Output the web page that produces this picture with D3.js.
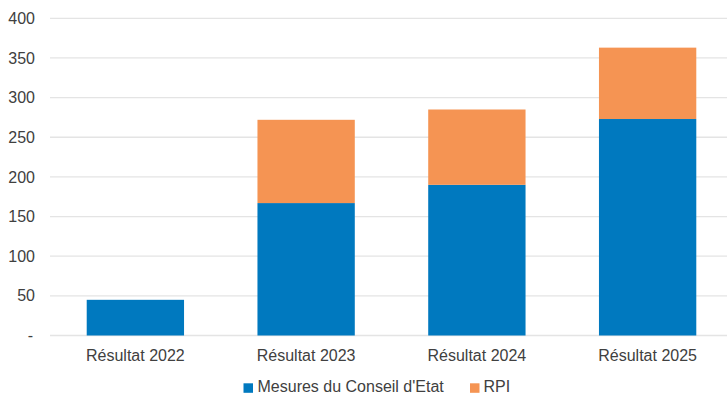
<!DOCTYPE html>
<html><head><meta charset="utf-8">
<script src="https://cdn.jsdelivr.net/npm/d3@7/dist/d3.min.js"></script>
<style>body{margin:0;background:#fff;}svg{display:block;font-family:"Liberation Sans",Arial,sans-serif;}</style>
</head><body>
<svg id="c" width="727" height="395"></svg>
<script>
const categories = ["Résultat 2022","Résultat 2023","Résultat 2024","Résultat 2025"];
const seriesNames = ["Mesures du Conseil d'Etat","RPI"];
const mesures = [45, 167, 190, 273];
const rpi = [0, 105, 95, 90];
const yTicks = [0,50,100,150,200,250,300,350,400];
const yTickLabels = ["-","50","100","150","200","250","300","350","400"];
const colors = ["#0079BF","#F59453"];

(function(){
const svg = d3.select("#c");
const mLeft = 50, mRight = 733, mTop = 18.3, mBottom = 335.5;
const x = d3.scaleBand().domain(categories).range([mLeft, mRight]).paddingInner(0.43).paddingOuter(0.215);
const y = d3.scaleLinear().domain([0,400]).range([mBottom, mTop]);
const textColor = "#404040";

// gridlines
svg.append("g").selectAll("line").data(yTicks).join("line")
  .attr("x1", mLeft).attr("x2", 727)
  .attr("y1", d=>y(d)).attr("y2", d=>y(d))
  .attr("stroke", "#e4e4e4").attr("stroke-width", 1.3);

// y axis labels
const yAxis = d3.axisLeft(y).tickValues(yTicks).tickFormat((d,i)=>yTickLabels[i]).tickSize(0).tickPadding(0);
const gy = svg.append("g").attr("transform", `translate(35,0)`).call(yAxis);
gy.select(".domain").remove();
gy.selectAll("text").attr("font-size", 16).attr("fill", textColor).attr("font-family","Liberation Sans, Arial, sans-serif");
gy.selectAll(".tick").filter(d=>d===0).select("text").attr("dx", -2);

// stacked bars
const data = categories.map((c,i)=>({cat:c, m:mesures[i], r:rpi[i]}));
const stack = d3.stack().keys(["m","r"])(data);
svg.append("g").selectAll("g").data(stack).join("g")
  .attr("fill", (d,i)=>colors[i])
  .selectAll("rect").data(d=>d.filter(p=>p[1]-p[0]>0)).join("rect")
  .attr("x", d=>x(d.data.cat)).attr("width", x.bandwidth())
  .attr("y", d=>y(d[1])).attr("height", d=>y(d[0])-y(d[1]));

// x axis labels
const xAxis = d3.axisBottom(x).tickSize(0).tickPadding(0);
const gx = svg.append("g").attr("transform", `translate(0,361)`).call(xAxis);
gx.select(".domain").remove();
gx.selectAll("text").attr("font-size", 16).attr("fill", textColor).attr("dy", 0).attr("font-family","Liberation Sans, Arial, sans-serif");

// legend
const legend = svg.append("g");
const legendItems = [{x:243.5, tx:257.5},{x:470, tx:483.5}];
seriesNames.forEach((n,i)=>{
  legend.append("rect").attr("x", legendItems[i].x).attr("y", 383.3).attr("width", 9.5).attr("height", 9.5).attr("fill", colors[i]);
  legend.append("text").attr("x", legendItems[i].tx).attr("y", 391.5).attr("font-size", 16).attr("fill", textColor).text(n);
});
})();
</script>
</body></html>
